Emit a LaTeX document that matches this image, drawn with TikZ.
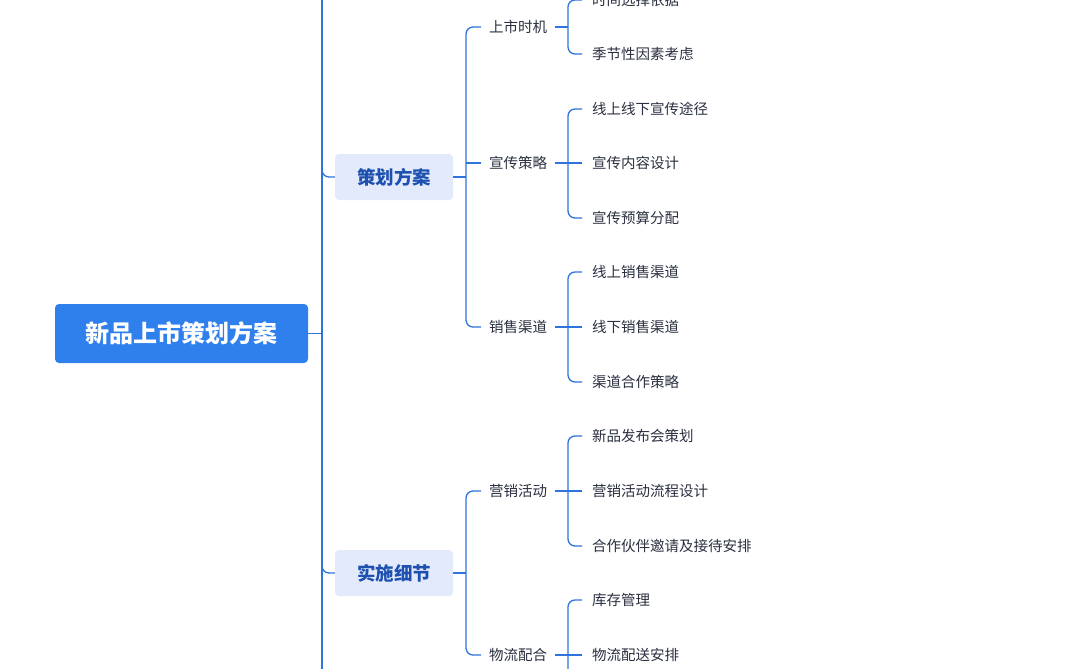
\documentclass[tikz,border=0pt]{standalone}
\usepackage{fontspec}
\setmainfont{Noto Sans CJK SC}
\definecolor{ln}{HTML}{2F74DA}
\definecolor{rootc}{HTML}{2F80ED}
\definecolor{l1f}{HTML}{E3EAFB}
\definecolor{l1t}{HTML}{1E50B0}
\definecolor{txt}{HTML}{2A3040}
\begin{document}
\begin{tikzpicture}[x=1pt,y=-1pt,
  conn/.style={draw=ln,line width=1.3pt,rounded corners=7pt},
  rootn/.style={fill=rootc,rounded corners=4pt,text=white,font=\fontsize{24}{28}\selectfont\bfseries,minimum width=253pt,minimum height=59pt},
  l1/.style={fill=l1f,rounded corners=4pt,text=l1t,font=\fontsize{18.5}{22}\selectfont\bfseries,minimum width=118pt,minimum height=46pt},
  l2/.style={anchor=west,text=txt,font=\fontsize{14.5}{17}\selectfont,inner xsep=8pt},
  l3/.style={anchor=west,text=txt,font=\fontsize{14.5}{17}\selectfont,inner xsep=10pt}]
\useasboundingbox (0,0) rectangle (1080,669);
\clip (0,0) rectangle (1080,669);
\fill[white] (0,0) rectangle (1080,669);
\node[rootn] (root) at (181.5,333.5) {新品上市策划方案};
\node[l1] (a) at (394,177) {策划方案};
\node[l1] (b) at (394,573) {实施细节};
\coordinate (t0) at (322,-40);
\coordinate (t1) at (322,720);
\draw[conn] (root.east) -- (322,333.5);
\draw[conn,rounded corners=0pt] (t0) -- (t1);
\draw[conn] (322,150) |- (a.west);
\draw[conn] (322,550) |- (b.west);
% level 2
\node[l2] (a1) at (481,27) {上市时机};
\node[l2] (a2) at (481,163) {宣传策略};
\node[l2] (a3) at (481,327) {销售渠道};
\node[l2] (b1) at (481,491) {营销活动};
\node[l2] (b2) at (481,655) {物流配合};
\draw[conn] (a.east) -- (466,177);
\draw[conn] (a1.west) -| (466,177) |- (a3.west);
\draw[conn] (466,163) -- (a2.west);
\draw[conn] (b.east) -- (466,573);
\draw[conn] (b1.west) -| (466,573) |- (b2.west);
% level 3
\node[l3] (c1) at (582,0) {时间选择依据};
\node[l3] (c2) at (582,54) {季节性因素考虑};
\node[l3] (c3) at (582,109) {线上线下宣传途径};
\node[l3] (c4) at (582,163) {宣传内容设计};
\node[l3] (c5) at (582,218) {宣传预算分配};
\node[l3] (c6) at (582,272) {线上销售渠道};
\node[l3] (c7) at (582,327) {线下销售渠道};
\node[l3] (c8) at (582,382) {渠道合作策略};
\node[l3] (c9) at (582,436) {新品发布会策划};
\node[l3] (c10) at (582,491) {营销活动流程设计};
\node[l3] (c11) at (582,546) {合作伙伴邀请及接待安排};
\node[l3] (c12) at (582,600) {库存管理};
\node[l3] (c13) at (582,655) {物流配送安排};
\coordinate (c14) at (582,710);
\draw[conn] (a1.east) -- (568,27);
\draw[conn] (c1.west) -| (568,27) |- (c2.west);
\draw[conn] (a2.east) -- (c4.west);
\draw[conn] (c3.west) -| (568,163) |- (c5.west);
\draw[conn] (a3.east) -- (c7.west);
\draw[conn] (c6.west) -| (568,327) |- (c8.west);
\draw[conn] (b1.east) -- (c10.west);
\draw[conn] (c9.west) -| (568,491) |- (c11.west);
\draw[conn] (b2.east) -- (c13.west);
\draw[conn] (c12.west) -| (568,655) |- (c14);
\end{tikzpicture}
\end{document}
